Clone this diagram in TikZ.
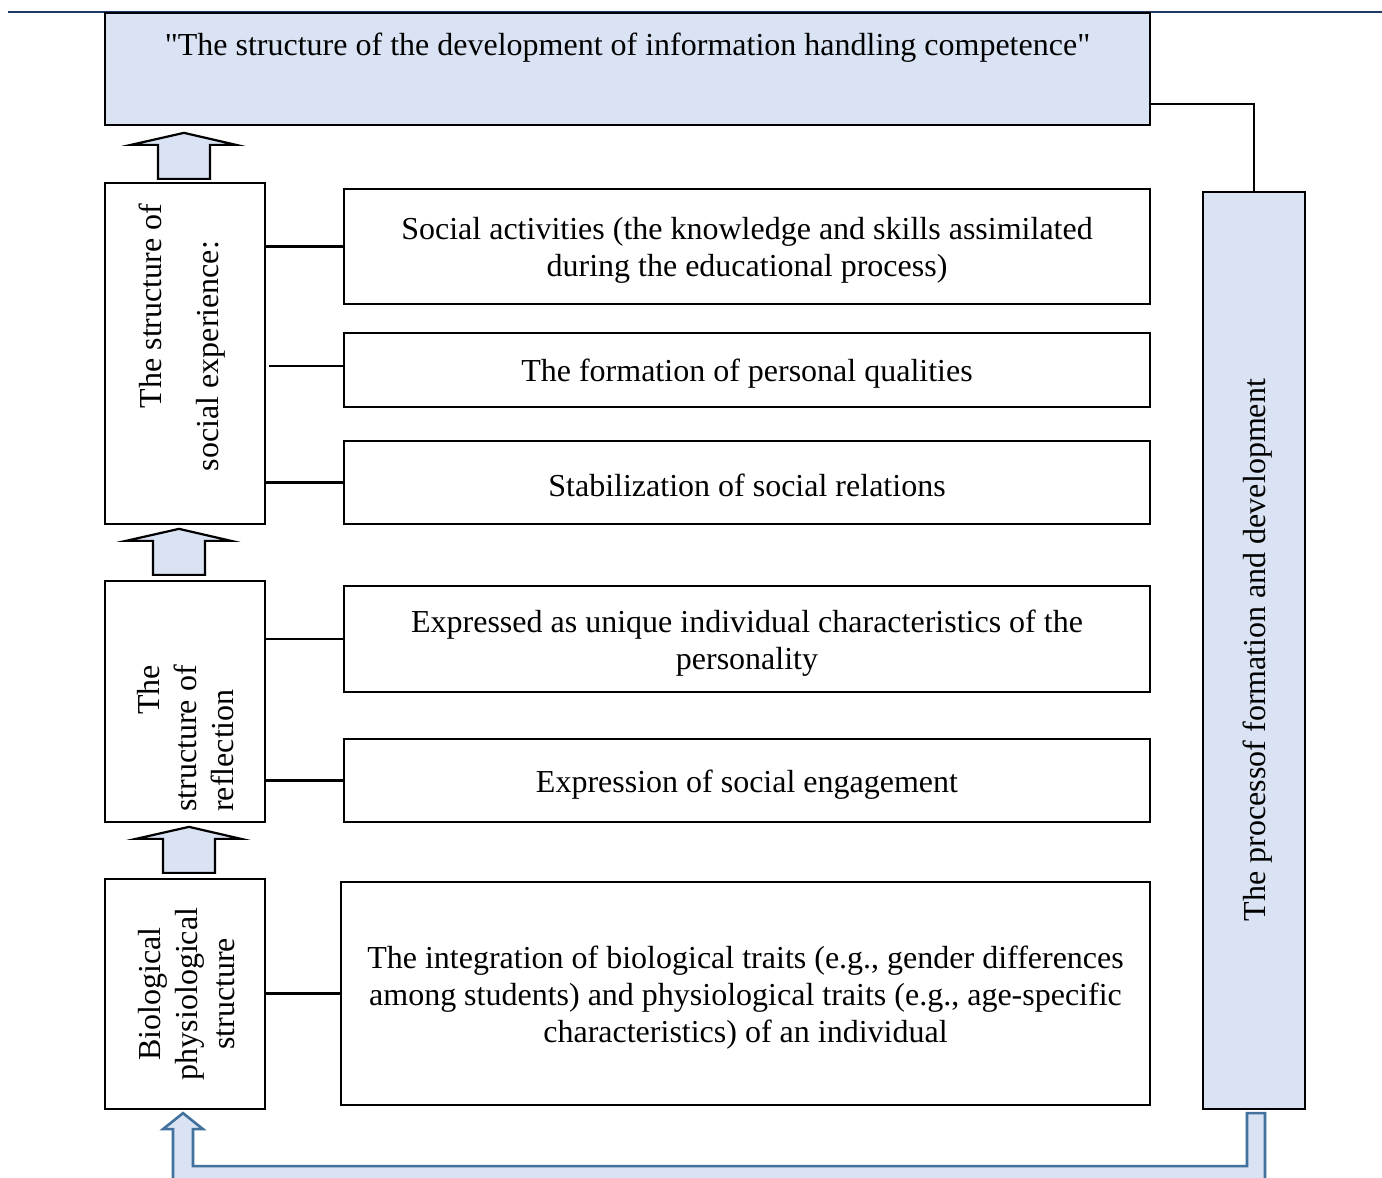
\documentclass[tikz,border=0pt]{standalone}
\usepackage{fontspec}
\setmainfont{Liberation Serif}
\font\qf="Liberation Serif" at 32pt
\usetikzlibrary{calc}
\definecolor{fillblue}{HTML}{DAE3F3}
\definecolor{edgeblue}{HTML}{41719C}
\definecolor{navyline}{HTML}{1F3864}
\newcommand\uparrowat[1]{\draw[blockarrow] (#1) ++(-26,0) -- ++(0,-34) -- ++(-27,0) -- ++(53,-12) -- ++(52,12) -- ++(-26,0) -- ++(0,34) -- cycle;}
\begin{document}
\begin{tikzpicture}[x=1pt,y=-1pt,
  box/.style={draw, line width=2.3pt, rectangle, inner sep=0pt},
  bluebox/.style={box, fill=fillblue},
  txt/.style={inner sep=0pt, font=\fontsize{32}{37}\selectfont, align=center},
  vtxt/.style={txt, rotate=90},
  link/.style={line width=2.1pt},
  blockarrow/.style={draw, line width=2.2pt, fill=fillblue, miter limit=25},
  loopar/.style={draw=edgeblue, line width=2.6pt, fill=fillblue, miter limit=25}]
\clip (0,0) rectangle (1382,1178);
\fill[white] (0,0) rectangle (1382,1178);
% top rule
\draw[navyline, line width=2.8pt] (8,12) -- (1382,12);
% title
\node[bluebox, minimum width=1045pt, minimum height=112pt] (title) at (627.5,69) {};
\node[txt] (titletext) at (627.5,48) {{\qf"}The structure of the development of information handling competence{\qf"}};
% left column boxes
\node[box, minimum width=160pt, minimum height=341pt] (soc) at (185,353.5) {};
\node[box, minimum width=160pt, minimum height=241pt] (refl) at (185,701.5) {};
\node[box, minimum width=160pt, minimum height=230pt] (bio) at (185,994) {};
\node[vtxt] (soctext) at (182,356) {\hspace*{100pt}The structure of\\[20pt]social experience:};
\node[vtxt] (refltext) at (189,738.5) {\begin{tabular}{@{}l@{}}\hfill The\\ structure of\\ reflection\end{tabular}};
\node[vtxt] (biotext) at (187,994) {Biological\\physiological\\structure};
% right column boxes
\node[box, minimum width=806pt, minimum height=115pt] (sa) at (747,246.5) {};
\node[box, minimum width=806pt, minimum height=74pt] (pq) at (747,370) {};
\node[box, minimum width=806pt, minimum height=83pt] (sr) at (747,482.5) {};
\node[box, minimum width=806pt, minimum height=106pt] (uc) at (747,639) {};
\node[box, minimum width=806pt, minimum height=83pt] (se) at (747,780.5) {};
\node[box, minimum width=809pt, minimum height=223pt] (bt) at (745.5,993.5) {};
\node[txt] (saT) at ($(sa)+(0,4)$) {Social activities (the knowledge and skills assimilated\\during the educational process)};
\node[txt] (pqT) at ($(pq)+(0,4)$) {The formation of personal qualities};
\node[txt] (srT) at ($(sr)+(0,3)$) {Stabilization of social relations};
\node[txt] (ucT) at ($(uc)+(0,4)$) {Expressed as unique individual characteristics of the\\personality};
\node[txt] (seT) at ($(se)+(0,4)$) {Expression of social engagement};
\node[txt] (btT) at ($(bt)+(0,4)$) {The integration of biological traits (e.g., gender differences\\among students) and physiological traits (e.g., age-specific\\characteristics) of an individual};
% process box
\node[bluebox, minimum width=102pt, minimum height=917pt] (proc) at (1254,650.5) {};
\node[vtxt] (proctext) at (1258,650) {The processof formation and development};
% connectors
\draw[link] (soc.east |- sa.west) -- (sa.west);
\draw[link] ([yshift=4pt]pq.west) -- ++(-74,0);
\draw[link] (soc.east |- sr.west) -- (sr.west);
\draw[link] (refl.east |- uc.west) -- (uc.west);
\draw[link] (refl.east |- se.west) -- (se.west);
\draw[link] (bio.east |- bt.west) -- (bt.west);
\draw[link] ([yshift=-35pt]title.east) -| (proc.north);
% block arrows
\coordinate (ar1) at ($(soc.north)+(-1,-3)$);
\coordinate (ar2) at ($(refl.north)+(-6,-5)$);
\coordinate (ar3) at ($(bio.north)+(4,-5)$);
\uparrowat{ar1}
\uparrowat{ar2}
\uparrowat{ar3}
% feedback arrow
\draw[loopar] ([shift={(-2,3)}]bio.south) -- ++(20,16) -- ++(-10,0) -- ++(0,37) -- ++(1054,0) -- ++(0,-53) -- ++(18,0) -- ++(0,73) -- ++(-1092,0) -- ++(0,-57) -- ++(-10,0) -- cycle;
\end{tikzpicture}
\end{document}
